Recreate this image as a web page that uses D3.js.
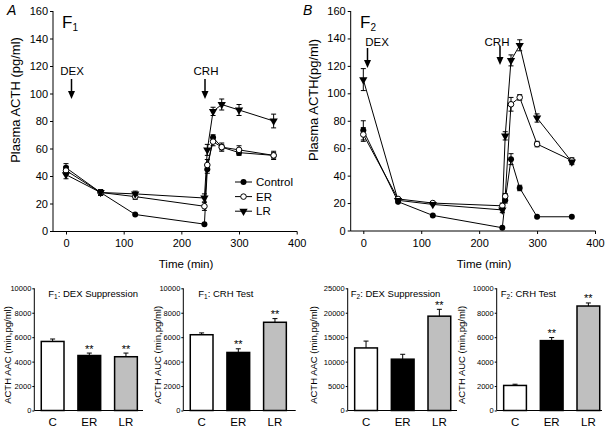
<!DOCTYPE html>
<html><head><meta charset="utf-8">
<script src="https://cdn.jsdelivr.net/npm/d3@7"></script>
<style>
body{margin:0;background:#fff;}
svg text{font-family:"Liberation Sans",Arial,sans-serif;fill:#000;}
</style></head>
<body><svg id="c" width="605" height="428"></svg>
<script>
// ---- data ----
const times = [0, 60, 120, 240, 245, 255, 270, 300, 360];
const xTicks = [0, 100, 200, 300, 400];
const yTicks = [0, 20, 40, 60, 80, 100, 120, 140, 160];
const seriesNames = ["Control", "ER", "LR"];

const f1Control = [46, 28, 12, 5, 45, 68, 61, 57, 55];
const f1ER      = [44, 28, 25, 18, 48, 65, 61, 59, 55];
const f1LR      = [41, 28, 27, 24, 59, 87, 92, 88, 80];
const f1ControlErr = [3, 2, 1, 1, 3, 2, 2, 2, 2];
const f1ERErr      = [3, 2, 2, 3, 4, 3, 3, 3, 3];
const f1LRErr      = [3, 2, 2, 3, 4, 3, 4, 4, 5];

const f2Control = [73, 21, 11, 2, 22, 52, 31, 10, 10];
const f2ER      = [70, 23, 20, 18, 25, 92, 97, 63, 51];
const f2LR      = [110, 22, 19, 15, 69, 124, 135, 82, 50];
const f2ControlErr = [7, 1, 1, 1, 2, 4, 2, 1, 1];
const f2ERErr      = [5, 1, 1, 2, 2, 5, 2, 2, 2];
const f2LRErr      = [8, 1, 1, 2, 3, 4, 4, 3, 2];

const groups = ["C", "ER", "LR"];
const f1DexVals = [5650, 4500, 4400];
const f1DexErr  = [200, 200, 300];
const f1DexSig  = ["", "**", "**"];
const f1CrhVals = [6200, 4750, 7220];
const f1CrhErr  = [150, 300, 300];
const f1CrhSig  = ["", "**", "**"];
const f2DexVals = [12800, 10500, 19300];
const f2DexErr  = [1400, 1000, 1400];
const f2DexSig  = ["", "", "**"];
const f2CrhVals = [2050, 5720, 8550];
const f2CrhErr  = [100, 250, 250];
const f2CrhSig  = ["", "**", "**"];
const barTicks10k = [0, 2000, 4000, 6000, 8000, 10000];
const barTicks25k = [0, 5000, 10000, 15000, 20000, 25000];

// ---- drawing ----
const svg = d3.select("#c");
const FONT = '"Liberation Sans",Arial,sans-serif';

function marker(g, type, x, y) {
  if (type === "Control") {
    g.append("circle").attr("cx", x).attr("cy", y).attr("r", 3).attr("fill", "#000");
  } else if (type === "ER") {
    g.append("circle").attr("cx", x).attr("cy", y).attr("r", 2.8).attr("fill", "#fff").attr("stroke", "#000").attr("stroke-width", 1);
  } else {
    g.append("path").attr("d", d3.symbol().type(d3.symbolTriangle).size(30)())
      .attr("transform", `translate(${x},${y}) rotate(180)`).attr("fill", "#000");
  }
}

function arrow(g, x, y1, y2) {
  g.append("line").attr("x1", x).attr("x2", x).attr("y1", y1).attr("y2", y2 - 6)
    .attr("stroke", "#000").attr("stroke-width", 1.5);
  g.append("path").attr("d", `M${x-3.5},${y2-8} L${x+3.5},${y2-8} L${x},${y2} Z`).attr("fill", "#000");
}

function linePanel(opt) {
  const g = svg.append("g");
  const x = d3.scaleLinear().domain([0, 400]).range([opt.x0, opt.x1]);
  const y = d3.scaleLinear().domain([0, 160]).range([opt.yb, opt.yt]);
  const ya = g.append("g").attr("transform", `translate(${opt.ax},0)`)
    .call(d3.axisLeft(y).tickValues(yTicks).tickSize(3).tickPadding(2));
  ya.select(".domain").remove();
  g.append("line").attr("x1", opt.ax).attr("x2", opt.ax).attr("y1", opt.yt).attr("y2", opt.yb + 0.5).attr("stroke", "#000");
  const xa = g.append("g").attr("transform", `translate(0,${opt.yb + 0.5})`)
    .call(d3.axisBottom(x).tickValues(xTicks).tickSize(3).tickPadding(5));
  xa.select(".domain").remove();
  g.append("line").attr("x1", opt.ax).attr("x2", opt.x1 + 0.5).attr("y1", opt.yb + 0.5).attr("y2", opt.yb + 0.5).attr("stroke", "#000");
  g.selectAll(".tick text").attr("font-size", 11).attr("font-family", FONT);
  g.selectAll(".tick line").attr("stroke", "#000");

  const order = ["Control", "ER", "LR"];
  order.forEach((name, si) => {
    const vals = opt.vals[si];
    const line = d3.line().x((d, i) => x(times[i])).y(d => y(d));
    g.append("path").datum(vals).attr("d", line).attr("fill", "none").attr("stroke", "#000").attr("stroke-width", 1);
  });
  order.forEach((name, si) => {
    const vals = opt.vals[si], errs = opt.errs[si];
    vals.forEach((v, i) => {
      const cx = x(times[i]);
      const e = errs[i];
      if (e > 1) {
        g.append("line").attr("x1", cx).attr("x2", cx).attr("y1", y(v - e)).attr("y2", y(v + e)).attr("stroke", "#000");
        [v - e, v + e].forEach(w => g.append("line").attr("x1", cx - 2.5).attr("x2", cx + 2.5).attr("y1", y(w)).attr("y2", y(w)).attr("stroke", "#000"));
      }
    });
  });
  order.forEach((name, si) => {
    opt.vals[si].forEach((v, i) => marker(g, name, x(times[i]), y(v)));
  });

  g.append("text").attr("x", opt.letterX).attr("y", 15).attr("font-size", 14).attr("font-style", "italic").text(opt.letter);
  const ft = g.append("text").attr("x", opt.fx).attr("y", 28).attr("font-size", 17);
  ft.append("tspan").text("F");
  ft.append("tspan").attr("font-size", 10).attr("dy", 3).text(opt.sub);
  g.append("text").attr("transform", `translate(${opt.ylx},${opt.yly}) rotate(-90)`).attr("text-anchor", "middle")
    .attr("font-size", 13).text(opt.ylabel);
  g.append("text").attr("x", opt.tx).attr("y", 268).attr("text-anchor", "middle").attr("font-size", 11.5).text("Time (min)");
  g.append("text").attr("x", opt.dex[0]).attr("y", opt.dex[1]).attr("text-anchor", "middle").attr("font-size", 11.5).text("DEX");
  arrow(g, opt.dex[2], opt.dex[3], opt.dex[4]);
  g.append("text").attr("x", opt.crh[0]).attr("y", opt.crh[1]).attr("text-anchor", "middle").attr("font-size", 11.5).text("CRH");
  arrow(g, opt.crh[2], opt.crh[3], opt.crh[4]);

  if (opt.legend) {
    seriesNames.forEach((n, i) => {
      const ly = 182 + i * 14.6;
      g.append("line").attr("x1", 235).attr("x2", 252).attr("y1", ly).attr("y2", ly).attr("stroke", "#000");
      marker(g, n, 243.5, ly);
      g.append("text").attr("x", 256).attr("y", ly + 4).attr("font-size", 11.5).text(n);
    });
  }
}

linePanel({
  ax: 53, x0: 66, x1: 296.7, yb: 231, yt: 11,
  vals: [f1Control, f1ER, f1LR], errs: [f1ControlErr, f1ERErr, f1LRErr],
  letter: "A", letterX: 7, fx: 62, sub: "1",
  ylabel: "Plasma ACTH (pg/ml)", ylx: 20, yly: 100, tx: 186,
  dex: [72, 75, 71.5, 79, 99], crh: [206, 75, 205, 79, 99], legend: true
});
linePanel({
  ax: 350.7, x0: 363.3, x1: 595, yb: 230.5, yt: 11,
  vals: [f2Control, f2ER, f2LR], errs: [f2ControlErr, f2ERErr, f2LRErr],
  letter: "B", letterX: 303, fx: 360, sub: "2",
  ylabel: "Plasma ACTH(pg/ml)", ylx: 318, yly: 100, tx: 484,
  dex: [377, 46, 367.5, 48, 68], crh: [497, 46, 500, 46, 65], legend: false
});

function barPanel(opt) {
  const g = svg.append("g");
  const x = d3.scaleBand().domain(groups).range([opt.ax, opt.ax + 110]).paddingInner(0.38).paddingOuter(0.19);
  const y = d3.scaleLinear().domain([0, opt.max]).range([410.5, 288.3]);
  const ya = g.append("g").attr("transform", `translate(${opt.ax},0)`)
    .call(d3.axisLeft(y).tickValues(opt.ticks).tickFormat(d3.format("d")).tickSize(2).tickPadding(1));
  ya.select(".domain").remove();
  ya.selectAll("text").attr("font-size", 7.5).attr("font-family", FONT);
  ya.selectAll("line").attr("stroke", "#000");
  g.append("line").attr("x1", opt.ax).attr("x2", opt.ax).attr("y1", 288.3).attr("y2", 410.5).attr("stroke", "#000");
  const colors = ["#ffffff", "#000000", "#bfbfbf"];
  groups.forEach((c, i) => {
    const v = opt.vals[i], e = opt.errs[i];
    const bx = x(c), bw = x.bandwidth();
    g.append("line").attr("x1", bx + bw / 2).attr("x2", bx + bw / 2).attr("y1", y(v)).attr("y2", y(v + e)).attr("stroke", "#000");
    g.append("line").attr("x1", bx + bw / 2 - 2.5).attr("x2", bx + bw / 2 + 2.5).attr("y1", y(v + e)).attr("y2", y(v + e)).attr("stroke", "#000");
    g.append("rect").attr("x", bx).attr("y", y(v)).attr("width", bw).attr("height", y(0) - y(v))
      .attr("fill", colors[i]).attr("stroke", "#000").attr("stroke-width", 1.5);
    if (opt.sig[i]) {
      g.append("text").attr("x", bx + bw / 2).attr("y", y(v + e) - 0.5).attr("text-anchor", "middle").attr("font-size", 11).text(opt.sig[i]);
    }
    g.append("text").attr("x", bx + bw / 2).attr("y", 426).attr("text-anchor", "middle").attr("font-size", 11.5).text(c);
  });
  g.append("line").attr("x1", opt.ax).attr("x2", opt.axEnd).attr("y1", 410.5).attr("y2", 410.5).attr("stroke", "#000").attr("stroke-width", 1.2);
  const t = g.append("text").attr("x", opt.ax + opt.tOff).attr("y", 297).attr("font-size", 9.5);
  t.append("tspan").text("F");
  t.append("tspan").attr("font-size", 6.5).attr("dy", 2).text(opt.sub);
  t.append("tspan").attr("dy", -2).text(": " + opt.title);
  g.append("text").attr("transform", `translate(${opt.ylx},355) rotate(-90)`).attr("text-anchor", "middle")
    .attr("font-size", 9.5).text(opt.ylabel);
}

barPanel({ ax: 34.3, axEnd: 143, max: 10000, ticks: barTicks10k, vals: f1DexVals, errs: f1DexErr, sig: f1DexSig,
  sub: "1", title: "DEX Suppression", ylabel: "ACTH AAC (min,pg/ml)", ylx: 11, tOff: 14 });
barPanel({ ax: 183.3, axEnd: 295.7, max: 10000, ticks: barTicks10k, vals: f1CrhVals, errs: f1CrhErr, sig: f1CrhSig,
  sub: "1", title: "CRH Test", ylabel: "ACTH AUC (min,pg/ml)", ylx: 161, tOff: 15 });
barPanel({ ax: 347.7, axEnd: 457, max: 25000, ticks: barTicks25k, vals: f2DexVals, errs: f2DexErr, sig: f2DexSig,
  sub: "2", title: "DEX Suppression", ylabel: "ACTH AAC (min,pg/ml)", ylx: 317, tOff: 3 });
barPanel({ ax: 496.7, axEnd: 602, max: 10000, ticks: barTicks10k, vals: f2CrhVals, errs: f2CrhErr, sig: f2CrhSig,
  sub: "2", title: "CRH Test", ylabel: "ACTH AUC (min,pg/ml)", ylx: 465, tOff: 4 });
</script></body></html>
